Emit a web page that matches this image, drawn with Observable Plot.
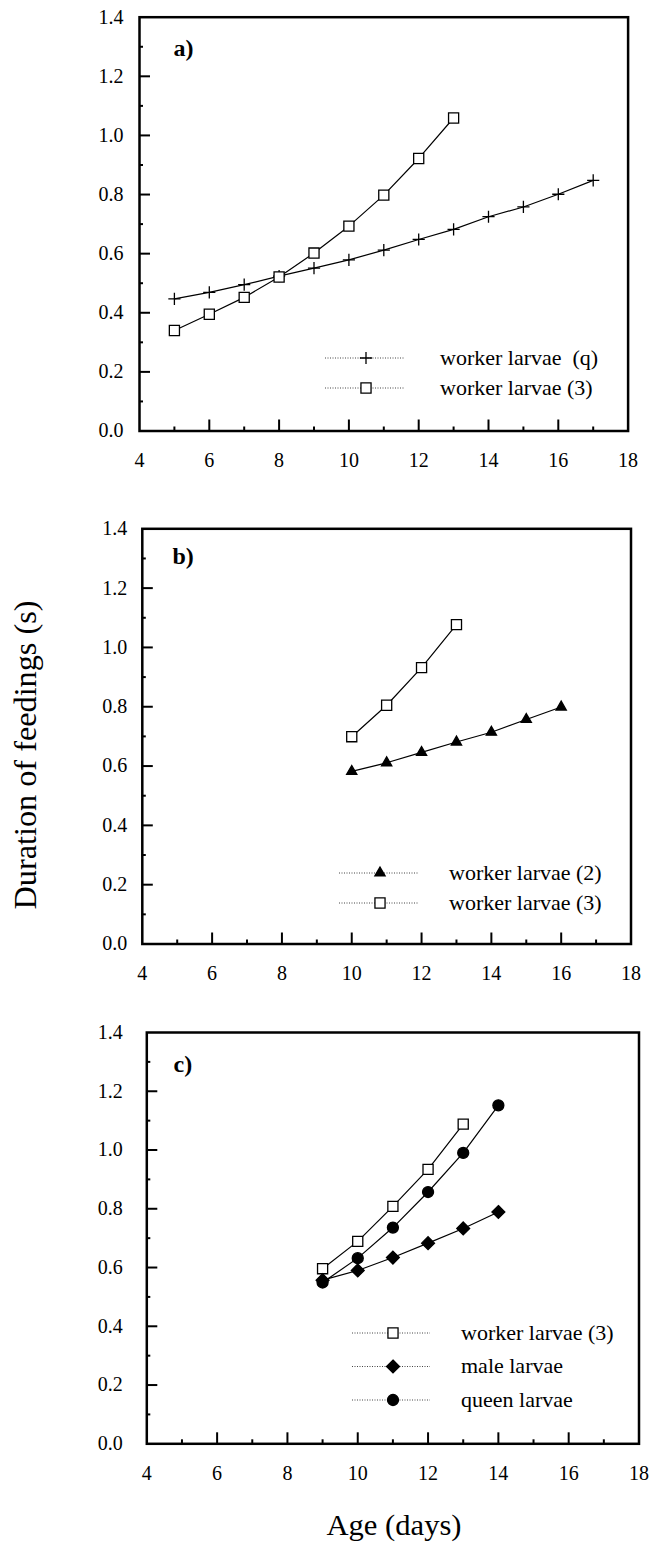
<!DOCTYPE html>
<html><head><meta charset="utf-8">
<script src="https://cdn.jsdelivr.net/npm/d3@7"></script>
<script src="https://cdn.jsdelivr.net/npm/@observablehq/plot@0.6"></script>
<style>
body{margin:0;background:#fff;}
#wrap{position:relative;width:649px;height:1544px;font-family:"Liberation Serif",serif;color:#000;overflow:hidden;}
.panel{position:absolute;left:0;overflow:visible;}
svg.over{position:absolute;left:0;top:0;pointer-events:none;}
</style></head><body><div id="wrap"></div>
<script>
// ---- tick values ----
const ageTicks = [4, 6, 8, 10, 12, 14, 16, 18];
const ageMinor = [5, 7, 9, 11, 13, 15, 17];
const ageMajorInner = [6, 8, 10, 12, 14, 16];
const durationTicks = [0, 0.2, 0.4, 0.6, 0.8, 1.0, 1.2, 1.4];
const durationMajorInner = [0.2, 0.4, 0.6, 0.8, 1.0, 1.2];
const durationMinor = [0.1, 0.3, 0.5, 0.7, 0.9, 1.1, 1.3];

// ---- panel a ----
const ageA_q = [5, 6, 7, 8, 9, 10, 11, 12, 13, 14, 15, 16, 17];
const durA_q = [0.447, 0.469, 0.495, 0.524, 0.551, 0.579, 0.612, 0.648, 0.682, 0.725, 0.758, 0.801, 0.848];
const ageA_3 = [5, 6, 7, 8, 9, 10, 11, 12, 13];
const durA_3 = [0.340, 0.395, 0.452, 0.521, 0.602, 0.693, 0.798, 0.922, 1.059];

// ---- panel b ----
const ageB_2 = [10, 11, 12, 13, 14, 15, 16];
const durB_2 = [0.582, 0.611, 0.646, 0.681, 0.714, 0.757, 0.799];
const ageB_3 = [10, 11, 12, 13];
const durB_3 = [0.699, 0.805, 0.932, 1.077];

// ---- panel c ----
const ageC_3 = [9, 10, 11, 12, 13];
const durC_3 = [0.596, 0.689, 0.808, 0.934, 1.088];
const ageC_male = [9, 10, 11, 12, 13, 14];
const durC_male = [0.557, 0.590, 0.634, 0.683, 0.733, 0.789];
const ageC_queen = [9, 10, 11, 12, 13, 14];
const durC_queen = [0.549, 0.632, 0.736, 0.857, 0.990, 1.152];

const panelLabels = ["a)", "b)", "c)"];
const yTitle = "Duration of feedings (s)";
const xTitle = "Age (days)";

// symbol styles
const SYM = {
  plus: {symbol: "plus", r: 4.0, fill: "none", stroke: "black"},
  square: {symbol: "square", r: 5.7, fill: "white", stroke: "black"},
  triangle: {symbol: "triangle", r: 3.8, fill: "black", stroke: "black"},
  diamond: {symbol: "diamond2", r: 5.8, fill: "black", stroke: "black"},
  circle: {symbol: "circle", r: 5.5, fill: "black", stroke: "black"}
};

const zip = (xs, ys) => xs.map((x, i) => ({age: x, dur: ys[i]}));

const panels = [
  {top: 0, height: 480, ml: 139, mr: 21.4, mt: 16.7, mb: 49.5, ypad: 16,
   label: panelLabels[0], labelPos: [173, 48],
   series: [
     {data: zip(ageA_q, durA_q), sym: "plus", name: "worker larvae  (q)"},
     {data: zip(ageA_3, durA_3), sym: "square", name: "worker larvae (3)"}
   ],
   legend: {x1: 325, x2: 404, xs: 366, xt: 440, ys: [358, 388]}},
  {top: 500, height: 480, ml: 141.8, mr: 18.5, mt: 28.3, mb: 36.5, ypad: 15,
   label: panelLabels[1], labelPos: [172, 556],
   series: [
     {data: zip(ageB_2, durB_2), sym: "triangle", name: "worker larvae (2)"},
     {data: zip(ageB_3, durB_3), sym: "square", name: "worker larvae (3)"}
   ],
   legend: {x1: 339, x2: 418, xs: 380, xt: 449, ys: [873, 903]}},
  {top: 1000, height: 480, ml: 146.3, mr: 10.5, mt: 32, mb: 36.7, ypad: 24,
   label: panelLabels[2], labelPos: [173, 1064],
   series: [
     {data: zip(ageC_3, durC_3), sym: "square", name: "worker larvae (3)"},
     {data: zip(ageC_male, durC_male), sym: "diamond", name: "male larvae"},
     {data: zip(ageC_queen, durC_queen), sym: "circle", name: "queen larvae"}
   ],
   legend: {x1: 352, x2: 430, xs: 393, xt: 461, ys: [1333, 1366.5, 1400]}}
];

const wrap = document.getElementById("wrap");
const W = 649;

for (const p of panels) {
  const fh = p.height - p.mt - p.mb;
  const fw = W - p.ml - p.mr;
  const marks = [
    Plot.tickX(ageMajorInner, {x: d => d, insetTop: fh - 11, strokeWidth: 2}),
    Plot.tickX(ageMinor, {x: d => d, insetTop: fh - 4, strokeWidth: 2}),
    Plot.tickY(durationMajorInner, {y: d => d, insetRight: fw - 11, strokeWidth: 2}),
    Plot.tickY(durationMinor, {y: d => d, insetRight: fw - 4, strokeWidth: 2}),
    Plot.frame({stroke: "black", strokeWidth: 2.5})
  ];
  for (const s of p.series) {
    marks.push(Plot.line(s.data, {x: "age", y: "dur", stroke: "black", strokeWidth: 1.2}));
  }
  for (const s of p.series) {
    const st = SYM[s.sym];
    marks.push(Plot.dot(s.data, {x: "age", y: "dur", symbol: st.symbol, r: st.r, fill: st.fill, stroke: st.stroke, strokeWidth: 1.3}));
  }
  marks.push(Plot.text([p.label], {text: d => d, frameAnchor: "top-left", dx: p.labelPos[0] - p.ml, dy: p.labelPos[1] - p.top - p.mt,
    textAnchor: "start", lineAnchor: "middle", fontSize: 24, fontWeight: "bold"}));
  const chart = Plot.plot({
    width: W, height: p.height,
    marginLeft: p.ml, marginRight: p.mr, marginTop: p.mt, marginBottom: p.mb,
    style: {fontFamily: "Liberation Serif, serif", fontSize: "20px", color: "black", background: "transparent", overflow: "visible"},
    x: {domain: [4, 18], ticks: ageTicks, tickSize: 0, tickPadding: 22, label: null},
    y: {domain: [0, 1.4], ticks: durationTicks, tickFormat: d3.format(".1f"), tickSize: 0, tickPadding: p.ypad, label: null},
    marks
  });
  chart.classList.add("panel");
  chart.style.top = p.top + "px";
  wrap.appendChild(chart);
}

// overlay: legends and titles
const over = d3.select(wrap).append("svg").attr("class", "over").attr("width", W).attr("height", 1544);
const symMap = {plus: d3.symbolPlus, square: d3.symbolSquare, triangle: d3.symbolTriangle, diamond: d3.symbolDiamond2, circle: d3.symbolCircle};
for (const p of panels) {
  const L = p.legend;
  p.series.forEach((s, i) => {
    const y = L.ys[i];
    over.append("line").attr("x1", L.x1).attr("x2", L.x2).attr("y1", y).attr("y2", y)
      .attr("stroke", "#444").attr("stroke-width", 1).attr("stroke-dasharray", "1 1.5");
    const st = SYM[s.sym];
    over.append("path").attr("transform", `translate(${L.xs},${y})`)
      .attr("d", d3.symbol(symMap[s.sym], Math.PI * st.r * st.r)())
      .attr("fill", st.fill).attr("stroke", st.stroke).attr("stroke-width", 1.3);
    over.append("text").attr("x", L.xt).attr("y", y).attr("dy", "0.3em")
      .attr("font-family", "Liberation Serif, serif").attr("font-size", 22)
      .attr("xml:space", "preserve").style("white-space", "pre")
      .text(s.name);
  });
}
over.append("text")
  .attr("transform", "translate(36,755) rotate(-90)")
  .attr("text-anchor", "middle")
  .attr("font-family", "Liberation Serif, serif").attr("font-size", 32)
  .attr("textLength", 309).attr("lengthAdjust", "spacingAndGlyphs")
  .text(yTitle);
over.append("text")
  .attr("x", 394).attr("y", 1535)
  .attr("text-anchor", "middle")
  .attr("font-family", "Liberation Serif, serif").attr("font-size", 30)
  .attr("textLength", 135).attr("lengthAdjust", "spacingAndGlyphs")
  .text(xTitle);
</script>
</body></html>
